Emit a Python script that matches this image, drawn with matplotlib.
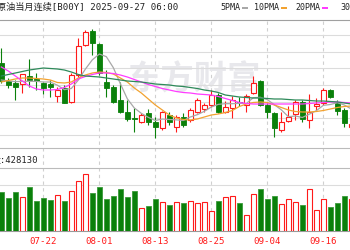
import matplotlib
matplotlib.use("Agg")
import matplotlib.pyplot as plt
from matplotlib.patches import Rectangle
import numpy as np
import pandas as pd

plt.rcParams['font.family'] = ['DejaVu Sans Mono', 'Noto Sans CJK SC']

title = "原油当月连续[B00Y] 2025-09-27 06:00"
ma_names = ["5PMA", "10PMA", "20PMA", "30PMA"]
ma_colors = ["#a8a8a8", "#f2a230", "#ff3cff", "#2e8a5a"]
vol_label = "量:428130"
watermark = "东方财富"

# trading days, the first two only carry the first date label
days = pd.bdate_range("2025-07-10", "2025-09-22")

opens = [513.4, 502.4, 501.0, 500.6, 505.6, 503.3, 501.0, 500.6, 493.4, 498.0,
         490.0, 506.0, 524.0, 532.4, 524.6, 502.0, 499.0, 491.0, 484.0, 480.0,
         478.0, 483.0, 478.0, 474.0, 482.0, 475.0, 481.0, 479.0, 484.0, 485.6,
         488.0, 494.0, 484.0, 486.0, 490.0, 488.0, 495.0, 502.4, 488.0, 483.0,
         473.0, 478.6, 482.6, 490.0, 479.0, 487.4, 489.0, 497.0, 489.0, 485.0, 474.8]
closes = [502.4, 500.0, 499.0, 506.4, 503.0, 502.4, 498.2, 499.0, 497.0, 489.4,
          506.0, 523.4, 531.8, 525.0, 507.0, 498.0, 490.0, 484.0, 479.6, 479.4,
          482.0, 478.0, 474.6, 484.0, 478.0, 481.0, 476.0, 485.0, 491.0, 488.0,
          494.0, 484.0, 487.0, 491.0, 489.0, 493.4, 501.4, 488.0, 484.0, 474.0,
          478.0, 481.0, 490.0, 479.4, 484.0, 488.6, 497.0, 492.6, 484.6, 477.0, 476.6]
highs = [522.0, 504.0, 503.0, 506.4, 515.4, 507.0, 502.0, 503.0, 499.0, 500.0,
         507.0, 528.0, 533.0, 533.4, 525.0, 509.0, 500.0, 502.0, 491.0, 486.0,
         483.0, 485.4, 481.0, 484.6, 484.0, 482.0, 483.0, 486.0, 492.0, 489.0,
         497.0, 495.0, 490.4, 493.4, 492.6, 494.6, 505.4, 503.0, 489.0, 484.0,
         484.0, 487.4, 491.0, 491.0, 494.6, 492.0, 498.0, 497.6, 491.0, 486.0, 477.8]
lows = [501.2, 498.0, 491.0, 495.4, 499.0, 497.0, 494.6, 493.0, 490.0, 489.0,
        489.4, 505.0, 523.4, 518.0, 506.0, 493.0, 489.2, 483.0, 478.4, 472.0,
        477.0, 476.0, 468.0, 473.0, 476.0, 472.0, 475.0, 478.0, 483.0, 484.0,
        487.0, 483.0, 483.0, 480.0, 487.4, 484.0, 494.6, 487.4, 480.0, 469.0,
        472.0, 478.0, 479.0, 478.0, 474.0, 485.0, 488.0, 492.0, 482.0, 475.0, 474.2]
volumes = [291000, 249000, 291000, 254000, 328000, 222000, 249000, 229000, 266000, 222000,
           296000, 371000, 428130, 283000, 328000, 242000, 261000, 316000, 254000, 296000,
           175000, 184000, 242000, 214000, 192000, 214000, 209000, 227000, 209000, 216000,
           147000, 222000, 254000, 261000, 209000, 119000, 274000, 311000, 236000, 261000,
           201000, 242000, 214000, 194000, 316000, 160000, 242000, 182000, 209000, 261000, 236000]

ma5 = [503.0, 502.5, 502.0, 502.2, 502.2, 502.2, 501.8, 501.8, 499.9, 497.2,
       497.9, 503.0, 509.5, 515.1, 518.6, 517.0, 510.4, 500.8, 491.7, 486.2,
       483.0, 480.6, 478.7, 479.6, 479.3, 479.1, 478.7, 480.8, 482.2, 484.2,
       486.8, 488.4, 488.8, 488.8, 489.0, 488.9, 492.4, 492.6, 491.2, 488.2,
       485.1, 481.0, 481.4, 480.5, 482.5, 484.6, 487.8, 488.3, 489.4, 488.0, 485.6]
ma10 = [501.8, 502.7, 503.6, 504.2, 504.2, 503.9, 503.6, 503.0, 501.5, 501.2,
        501.8, 504.2, 506.0, 507.2, 507.8, 507.5, 506.6, 504.2, 501.8, 498.2,
        495.2, 491.6, 488.0, 485.0, 482.0, 480.2, 479.3, 479.0, 479.6, 480.8,
        482.0, 482.6, 483.5, 484.7, 487.1, 488.6, 489.5, 489.8, 489.5, 488.0,
        486.5, 485.0, 484.1, 483.8, 483.8, 484.1, 484.7, 485.6, 486.5, 487.1, 487.4]
ma20 = [510.8, 508.4, 505.4, 502.4, 499.4, 497.6, 497.0, 497.0, 497.3, 498.5,
        500.6, 503.6, 505.1, 506.3, 507.2, 507.2, 506.9, 506.0, 504.8, 503.3,
        501.8, 500.3, 499.1, 497.9, 497.0, 496.1, 495.5, 495.2, 494.6, 494.3,
        494.0, 493.1, 491.9, 490.7, 489.5, 488.9, 488.6, 488.6, 488.6, 488.6,
        488.6, 488.6, 488.6, 488.6, 488.9, 489.2, 489.5, 489.8, 489.8, 489.5, 489.2]
ma30 = [505.4, 506.3, 507.2, 508.1, 509.0, 509.6, 510.2, 509.9, 509.6, 509.0,
        507.8, 506.3, 505.4, 505.1, 504.8, 504.2, 503.6, 503.0, 502.4, 502.1,
        501.8, 501.2, 500.6, 500.3, 500.0, 499.4, 499.1, 498.5, 497.9, 497.0,
        496.4, 495.5, 494.0, 493.4, 492.8, 492.5, 492.2, 492.2, 491.9, 491.6,
        491.6, 491.3, 491.0, 491.0, 490.7, 490.4, 490.4, 490.1, 489.8, 489.2, 488.6]

W, H = 350, 250
RED = "#ff1a1a"
GREEN = "#0a800a"


def fx(px):
    return px / W


def fy(py):
    return 1 - py / H


def axes_rect(top, bottom):
    return [0, fy(bottom), 1, (bottom - top) / H]


fig = plt.figure(figsize=(W / 100, H / 100), dpi=100)
fig.patch.set_facecolor("white")

offset = 2  # first candle is the third business day in `days`
n = len(closes)
x = np.arange(n)
xlim = (-0.19, 49.81)
label_idx = np.arange(0, len(days), 8) - offset

# background with vertical dashed grid across both panels
bg = fig.add_axes(axes_rect(20, 231))
bg.set_xlim(*xlim)
bg.axis("off")
for i in label_idx:
    bg.axvline(i, color="#d0d0d0", lw=0.8, ls=(0, (3, 3)), zorder=0)

# price panel
ax = fig.add_axes(axes_rect(20, 148))
ax.set_facecolor("none")
ax.set_xlim(*xlim)
ax.set_ylim(462.2, 539.0)
for v in range(470, 531, 10):
    ax.axhline(v, color="#dcdcdc", lw=0.8, zorder=1)
ax.set_xticks([])
ax.set_yticks([])
for s in ["left", "right"]:
    ax.spines[s].set_visible(False)
ax.spines["top"].set_color("#a0a0a0")
ax.spines["bottom"].set_color("#bbbbbb")
ax.spines["top"].set_linewidth(0.8)
ax.spines["bottom"].set_linewidth(0.8)

ax.text(0.555, 0.53, watermark, transform=ax.transAxes, fontsize=24,
        family=["Noto Sans CJK SC"], color="#e8e8ec", ha="center", va="center",
        zorder=0.5, fontweight="bold")

o = np.array(opens)
c = np.array(closes)
up = c >= o
col = np.where(up, RED, GREEN)
ax.vlines(x, lows, highs, colors=col, lw=0.8, zorder=2)
body_h = np.maximum(np.abs(c - o), 0.5)
ax.bar(x[up], body_h[up], bottom=np.minimum(o, c)[up], width=0.66,
       facecolor="white", edgecolor=RED, lw=0.8, zorder=3)
ax.bar(x[~up], body_h[~up], bottom=np.minimum(o, c)[~up], width=0.66,
       facecolor=GREEN, edgecolor=GREEN, lw=0.6, zorder=3)

for series, color in zip([ma5, ma10, ma20, ma30], ma_colors):
    ax.plot(x, series, color=color, lw=0.9, zorder=4)

# volume panel
av = fig.add_axes(axes_rect(168, 231))
av.set_facecolor("none")
av.set_xlim(*xlim)
av.set_ylim(0, 470000)
av.axhline(343000, color="#dcdcdc", lw=0.8, zorder=1)
av.set_xticks([])
av.set_yticks([])
for s in ["left", "right"]:
    av.spines[s].set_visible(False)
av.spines["top"].set_color("#bbbbbb")
av.spines["bottom"].set_color("#999999")
av.spines["top"].set_linewidth(0.8)
av.spines["bottom"].set_linewidth(0.8)

vol = np.array(volumes)
av.bar(x[up], vol[up], width=0.68, facecolor="white", edgecolor=RED, lw=0.8, zorder=3)
av.bar(x[~up], vol[~up], width=0.68, facecolor=GREEN, edgecolor="#3a9a3a", lw=0.6, zorder=3)

# date labels under the volume bars
for i in label_idx:
    px = 1.3 + 7 * i
    fig.text(fx(px), fy(241), days[i + offset].strftime("%m-%d"), color=RED,
             fontsize=6.6, ha="center", va="center")

# header texts
fig.text(fx(-3), fy(7.5), title, fontsize=6.6, color="#222222", ha="left", va="center")
fig.text(fx(-8.5), fy(160), vol_label, fontsize=6.4, color="#222222", ha="left", va="center")

starts = [220, 254, 295, 340]
for name, color, sx in zip(ma_names, ma_colors, starts):
    fig.text(fx(sx), fy(7.5), name, fontsize=6.0, color="#222222", ha="left", va="center")
    sw = sx + 5 * len(name) + 2
    fig.patches.append(Rectangle((fx(sw), fy(9)), 6 / W, 2 / H, transform=fig.transFigure,
                                 facecolor=color, edgecolor="none"))

fig.savefig("out.png", dpi=100)
